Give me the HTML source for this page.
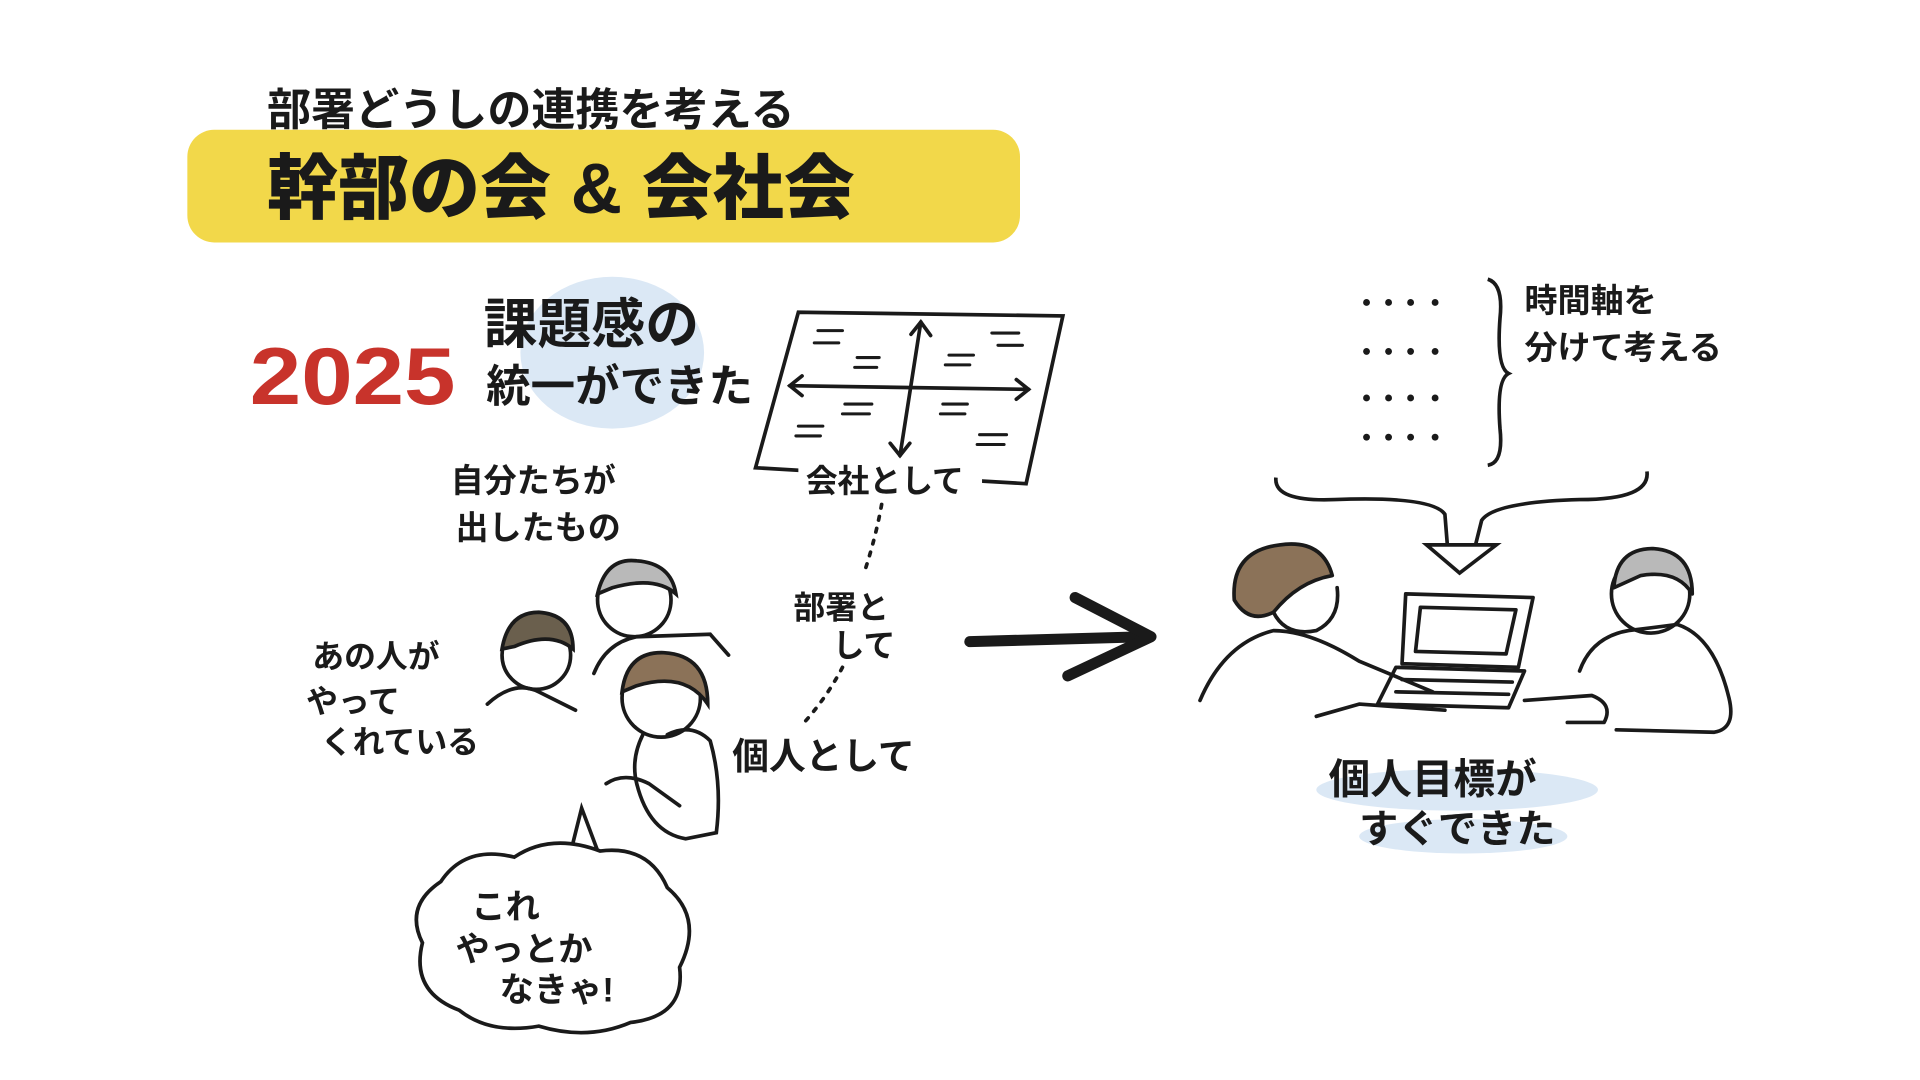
<!DOCTYPE html>
<html><head><meta charset="utf-8">
<style>
html,body{margin:0;padding:0;background:#fff;}
svg{display:block}
text{font-family:"Liberation Sans","Noto Sans CJK JP",sans-serif;fill:#1a1a1a;}
</style></head>
<body>
<svg width="1920" height="1080" viewBox="0 0 1568 882" preserveAspectRatio="none" xmlns="http://www.w3.org/2000/svg">
<defs>
<g id="dots" fill="#1a1a1a"><circle cx="1116" cy="0" r="2.8"/><circle cx="1134" cy="0" r="2.8"/><circle cx="1152" cy="0" r="2.8"/><circle cx="1172" cy="0" r="2.8"/></g>
</defs>
<rect width="1568" height="882" fill="#fff"/>
<!-- title -->
<text x="218" y="102" font-size="36" font-weight="bold">部署どうしの連携を考える</text>
<rect x="153" y="106" width="680" height="92" rx="22" fill="#f2d84a"/>
<text x="218" y="174" font-size="58" font-weight="900">幹部の会 &amp; 会社会</text>

<!-- blue blob -->
<ellipse cx="500" cy="288" rx="75" ry="62" fill="#dbe8f5"/>
<text x="204" y="330" font-size="66" font-weight="900" textLength="168" lengthAdjust="spacingAndGlyphs" style="fill:#c8332b">2025</text>
<text x="395" y="280" font-size="44" font-weight="bold">課題感の</text>
<text x="397" y="328" font-size="36" font-weight="bold" textLength="218" lengthAdjust="spacingAndGlyphs">統一ができた</text>

<!-- matrix -->
<g stroke="#1a1a1a" stroke-width="3" fill="none" stroke-linecap="round">
<polygon points="652,255 868,258 838,395 617,382"/>
<line x1="752" y1="263" x2="735" y2="372"/>
<polyline points="744,273 752,263 760,274"/>
<polyline points="727,362 735,372 743,362"/>
<line x1="645" y1="315" x2="840" y2="318"/>
<polyline points="655,307 645,315 655,323"/>
<polyline points="830,310 840,318 830,326"/>
<g stroke-width="2.5">
<line x1="668" y1="270" x2="688" y2="270"/><line x1="665" y1="280" x2="685" y2="280"/>
<line x1="810" y1="272" x2="832" y2="272"/><line x1="815" y1="282" x2="835" y2="282"/>
<line x1="700" y1="292" x2="718" y2="292"/><line x1="698" y1="300" x2="716" y2="300"/>
<line x1="775" y1="290" x2="795" y2="290"/><line x1="772" y1="298" x2="792" y2="298"/>
<line x1="690" y1="330" x2="712" y2="330"/><line x1="688" y1="338" x2="710" y2="338"/>
<line x1="770" y1="330" x2="790" y2="330"/><line x1="768" y1="338" x2="788" y2="338"/>
<line x1="652" y1="348" x2="672" y2="348"/><line x1="650" y1="356" x2="670" y2="356"/>
<line x1="800" y1="355" x2="822" y2="355"/><line x1="798" y1="363" x2="820" y2="363"/>
</g>
</g>
<rect x="652" y="378" width="150" height="28" fill="#fff"/>
<text x="658" y="402" font-size="26" font-weight="bold">会社として</text>
<path d="M720 412 Q715 440 705 470" stroke="#1a1a1a" stroke-width="3" fill="none" stroke-dasharray="3 7" stroke-linecap="round"/>
<text x="648" y="505" font-size="26" font-weight="bold">部署と</text>
<text x="680" y="536" font-size="26" font-weight="bold">して</text>
<path d="M688 545 Q675 570 655 592" stroke="#1a1a1a" stroke-width="3" fill="none" stroke-dasharray="3 7" stroke-linecap="round"/>
<text x="598" y="628" font-size="30" font-weight="bold">個人として</text>

<text x="368" y="402" font-size="27" font-weight="bold">自分たちが</text>
<text x="372" y="440" font-size="27" font-weight="bold">出したもの</text>
<text x="255" y="545" font-size="26" font-weight="bold">あの人が</text>
<text x="250" y="582" font-size="26" font-weight="bold">やって</text>
<text x="262" y="615" font-size="26" font-weight="bold">くれている</text>

<!-- left people -->
<g stroke="#1a1a1a" stroke-width="3" fill="none" stroke-linecap="round">
<circle cx="518" cy="490" r="30" fill="#fff"/>
<path d="M488 485 Q495 455 520 458 Q548 460 552 485 Q535 470 500 480Z" fill="#b9b9b9"/>
<path d="M485 550 Q495 525 520 520 L580 518 L595 535"/>
<circle cx="438" cy="535" r="28" fill="#fff"/>
<path d="M410 530 Q415 500 440 500 Q468 502 468 530 Q450 515 420 528Z" fill="#6a5f4d"/>
<path d="M398 575 Q420 555 440 565 L470 580"/>
<circle cx="540" cy="570" r="32" fill="#fff"/>
<path d="M508 565 Q512 532 542 533 Q578 535 578 575 Q560 548 520 560Z" fill="#8b7258"/>
<path d="M525 600 Q515 620 520 640 Q530 680 560 685 L585 680 Q590 640 580 605 Q565 590 545 600"/>
<path d="M495 640 Q510 630 530 640 L555 658"/>
</g>

<!-- speech cloud -->
<path d="M465 700 L475 660 L490 700" stroke="#1a1a1a" stroke-width="3" fill="#fff"/>
<path d="M360 720 Q380 690 420 700 Q450 680 490 695 Q530 690 545 725 Q575 750 555 790 Q560 830 515 835 Q480 850 440 838 Q400 845 375 825 Q335 810 345 770 Q330 740 360 720Z" stroke="#1a1a1a" stroke-width="3" fill="#fff"/>
<text x="385" y="750" font-size="28" font-weight="bold">これ</text>
<text x="372" y="785" font-size="28" font-weight="bold">やっとか</text>
<text x="408" y="818" font-size="28" font-weight="bold">なきゃ!</text>

<!-- big arrow -->
<g stroke="#1a1a1a" stroke-width="9" fill="none" stroke-linecap="round" stroke-linejoin="round">
<path d="M792 524 L935 520"/>
<path d="M878 488 L940 520 L872 552"/>
</g>

<!-- right top -->
<use href="#dots" y="247"/><use href="#dots" y="287"/><use href="#dots" y="325"/><use href="#dots" y="357"/>
<path d="M1215 228 Q1228 232 1225 260 Q1222 300 1232 305 Q1222 310 1225 350 Q1228 378 1215 380" stroke="#1a1a1a" stroke-width="3" fill="none"/>
<text x="1245" y="255" font-size="27" font-weight="bold">時間軸を</text>
<text x="1245" y="293" font-size="27" font-weight="bold">分けて考える</text>
<path d="M1042 390 Q1040 410 1090 408 Q1170 405 1180 420 L1182 445 M1345 385 Q1348 408 1290 408 Q1220 410 1210 425 L1205 445" stroke="#1a1a1a" stroke-width="3" fill="none"/>
<path d="M1165 445 L1222 445 L1192 468 Z" stroke="#1a1a1a" stroke-width="3" fill="#fff"/>

<!-- right scene -->
<g stroke="#1a1a1a" stroke-width="3" fill="none" stroke-linecap="round" stroke-linejoin="round">
<path d="M1008 490 Q1005 450 1045 445 Q1080 440 1088 470 Q1060 475 1040 500 Q1020 510 1008 490Z" fill="#8b7258"/>
<path d="M1040 500 Q1050 520 1075 515 Q1095 505 1092 480"/>
<path d="M980 572 Q1000 525 1040 515 Q1070 515 1110 540 L1170 565"/>
<path d="M1075 585 L1110 575 L1180 580"/>
<path d="M1148 485 L1252 488 L1240 545 L1145 542 Z"/>
<path d="M1160 496 L1238 498 L1230 534 L1156 532 Z"/>
<path d="M1140 545 L1245 548 L1232 578 L1125 575 Z"/>
<path d="M1145 555 L1235 557 M1140 565 L1232 567"/>
<circle cx="1348" cy="485" r="32" fill="#fff"/>
<path d="M1318 480 Q1320 448 1350 448 Q1382 450 1382 485 Q1370 465 1340 470Z" fill="#b9b9b9"/>
<path d="M1290 548 Q1300 520 1330 515 L1370 510 Q1400 520 1412 570 Q1418 595 1400 598 L1320 596"/>
<path d="M1245 572 L1300 568 Q1318 575 1310 590 L1280 590"/>
</g>

<!-- bottom right -->
<ellipse cx="1190" cy="645" rx="115" ry="17" fill="#dbe8f5"/>
<ellipse cx="1195" cy="683" rx="85" ry="14" fill="#dbe8f5"/>
<text x="1085" y="648" font-size="34" font-weight="bold">個人目標が</text>
<text x="1110" y="688" font-size="32" font-weight="bold">すぐできた</text>
</svg>
</body></html>
